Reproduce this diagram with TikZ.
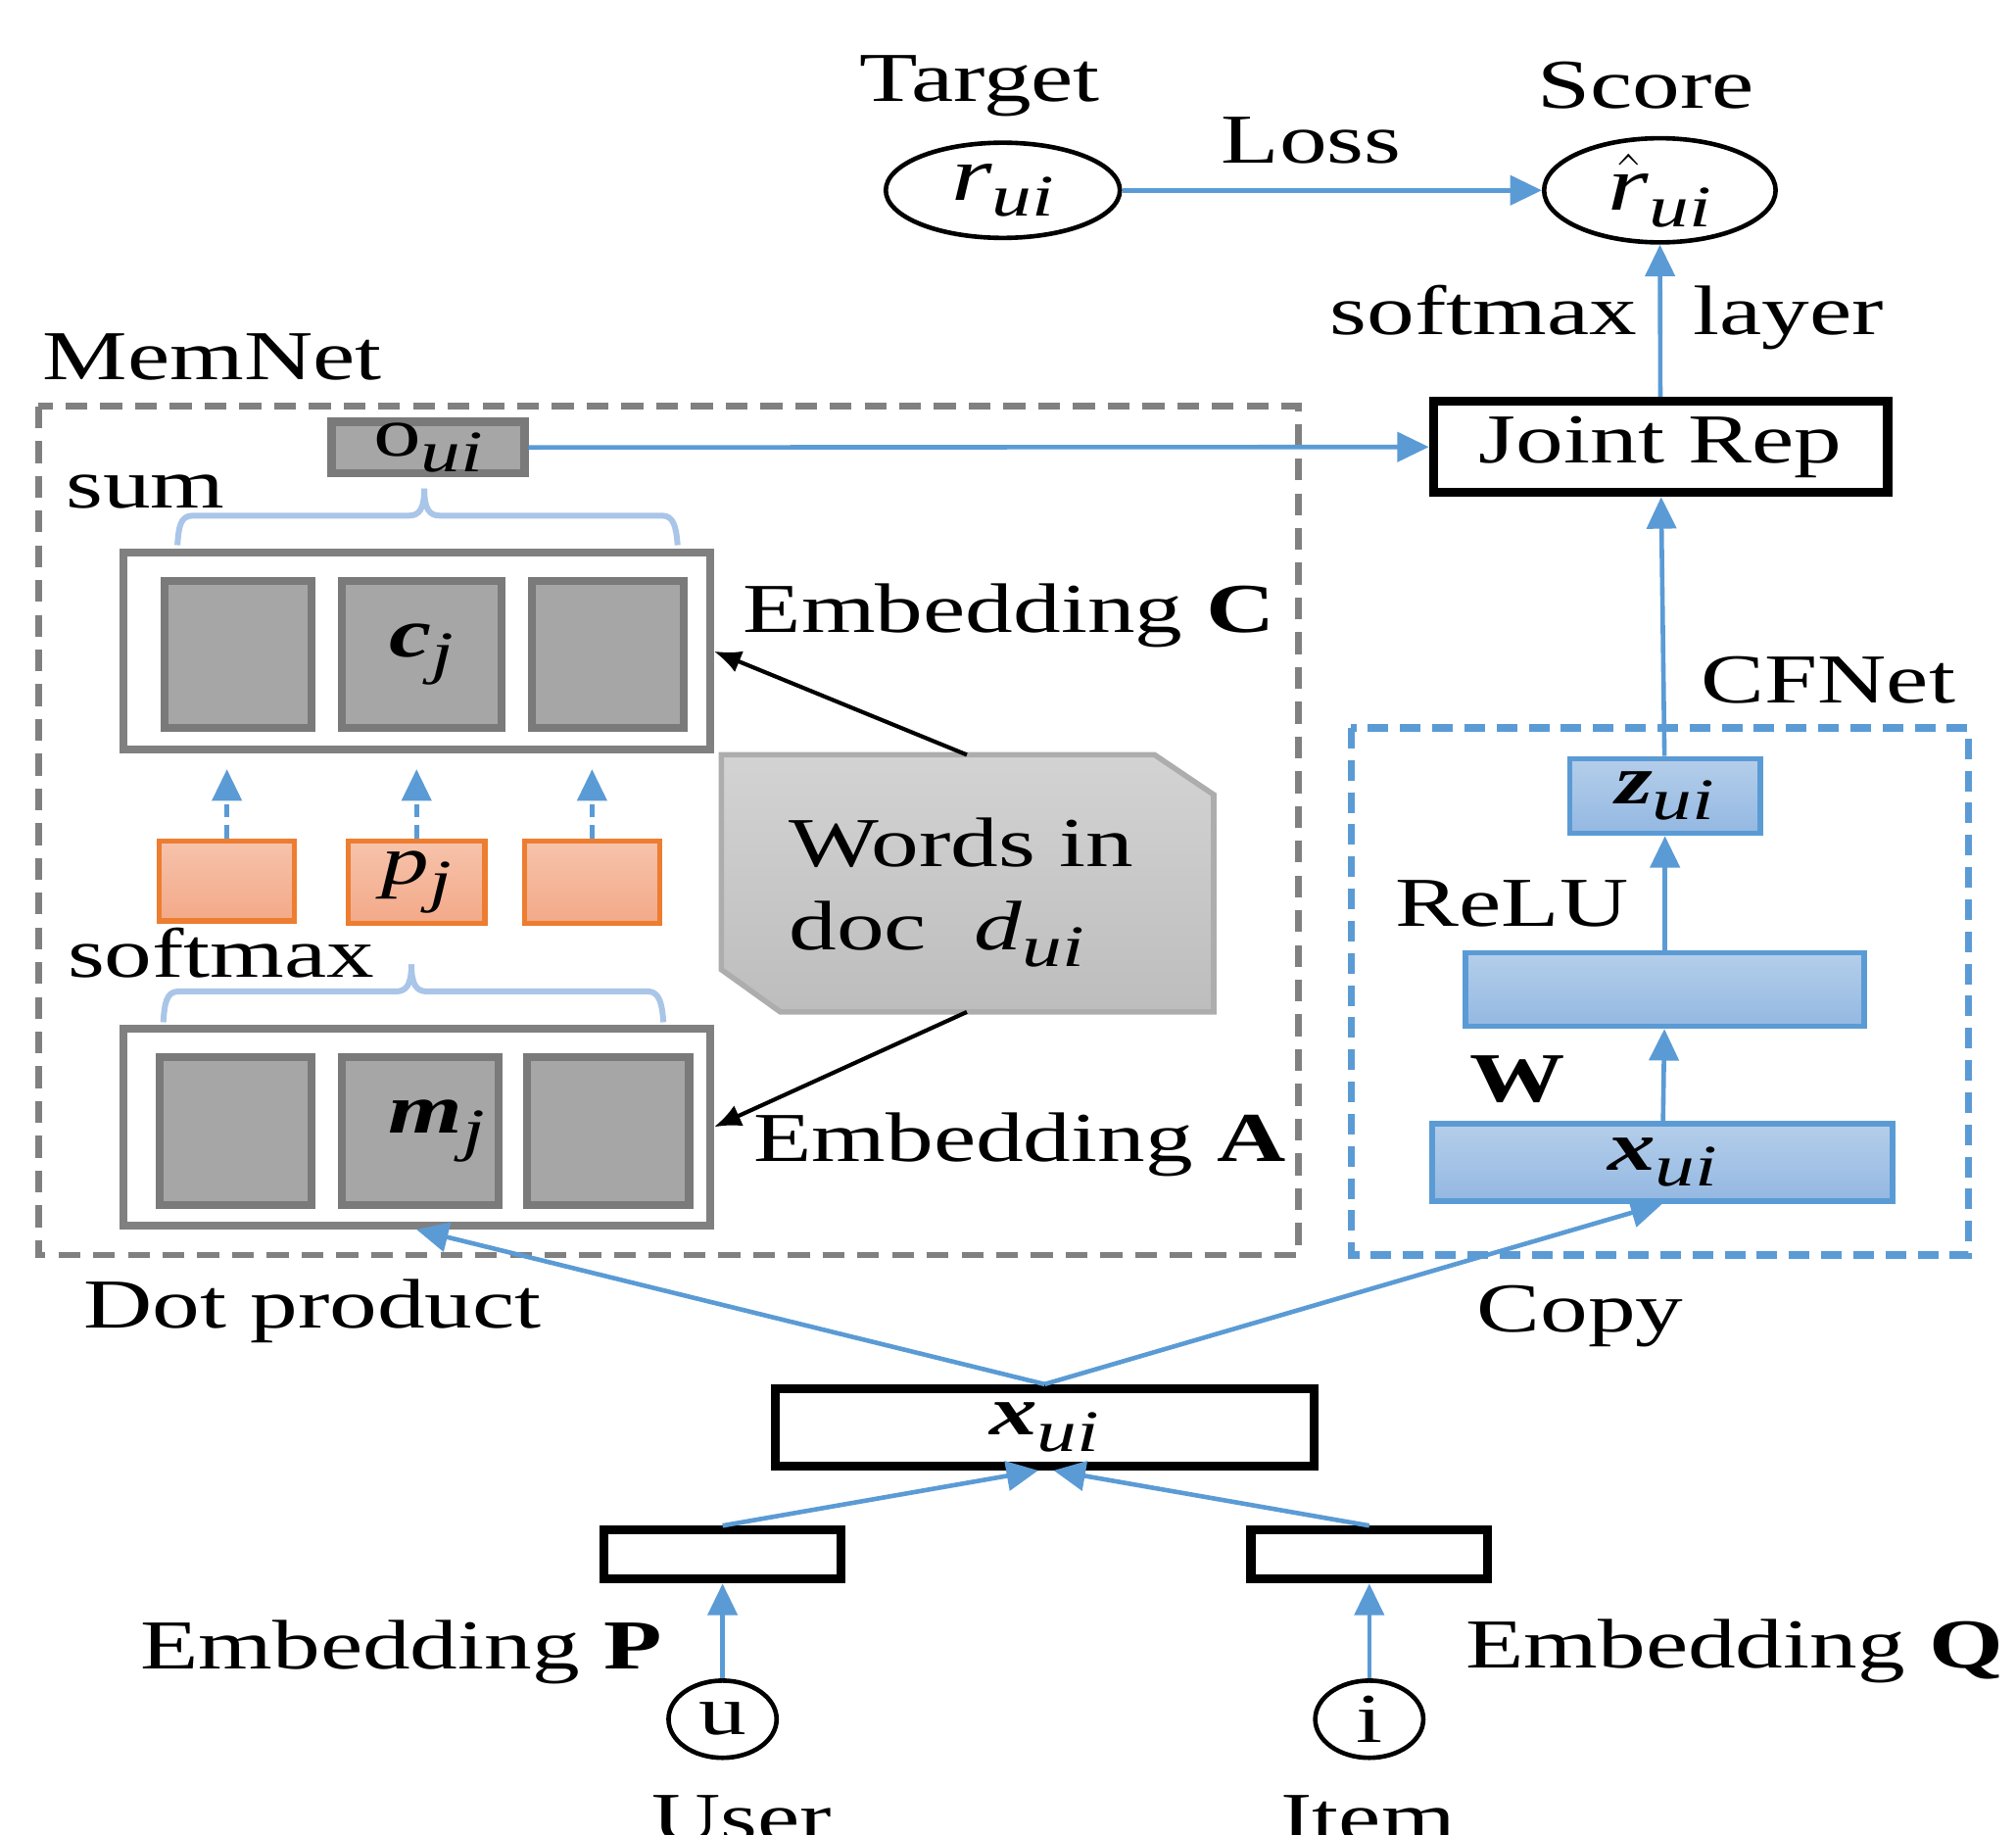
\documentclass[tikz,border=0pt]{standalone}
\usepackage{fontspec}
\setmainfont[FakeStretch=1.36]{Liberation Serif}
\usetikzlibrary{arrows.meta,shapes.geometric}

\definecolor{cfblue}{HTML}{5B9BD5}
\definecolor{framegray}{HTML}{808080}
\definecolor{cellfill}{HTML}{A6A6A6}
\definecolor{celledge}{HTML}{7A7A7A}
\definecolor{braceblue}{HTML}{A9C5E8}
\definecolor{orangeedge}{HTML}{ED7D31}
\definecolor{orangetop}{HTML}{F6C3AB}
\definecolor{orangebot}{HTML}{F3A988}
\definecolor{bluetop}{HTML}{B4CEEA}
\definecolor{bluebot}{HTML}{94B8E2}
\definecolor{doctop}{HTML}{D3D3D3}
\definecolor{docbot}{HTML}{BDBDBD}
\definecolor{docedge}{HTML}{ADADAD}

% lowered italic index, e.g. the "ui" of r_ui
\newcommand\lo[1]{\raisebox{-0.5ex}{\fontsize{13}{13}\selectfont\itshape #1}}

\begin{document}
\begin{tikzpicture}[x=0.01cm,y=-0.01cm,
  every node/.style={font=\fontsize{15.5}{18.6}\selectfont},
  lbl/.style={inner sep=0pt,anchor=base},
  ell/.style={ellipse,draw=black,line width=1pt,inner sep=0pt},
  kbox/.style={rectangle,draw=black,line width=2pt,fill=white,inner sep=0pt},
  holder/.style={rectangle,draw=framegray,line width=1.8pt,fill=white,inner sep=0pt},
  cell/.style={rectangle,draw=celledge,line width=1.8pt,fill=cellfill,inner sep=0pt,minimum height=1.14cm},
  wbox/.style={rectangle,draw=orangeedge,line width=1.2pt,top color=orangetop,bottom color=orangebot,inner sep=0pt},
  bbox/.style={rectangle,draw=cfblue,line width=1.2pt,top color=bluetop,bottom color=bluebot,inner sep=0pt},
  flow/.style={draw=cfblue,line width=1pt,-{Triangle[width=6.5pt,length=7pt]}},
  attn/.style={draw=cfblue,line width=1pt,dash pattern=on 3pt off 1.6pt,-{Triangle[width=6.5pt,length=7pt]},shorten >=0.12cm},
  feed/.style={draw=black,line width=0.9pt,-{Latex[width=5pt,length=6pt]}},
  memframe/.style={draw=framegray,line width=1.5pt,dash pattern=on 0.17cm off 0.1cm},
  cfframe/.style={draw=cfblue,line width=1.6pt,dash pattern=on 0.16cm off 0.09cm},
  bracket/.style={draw=braceblue,line width=1.3pt}]

\useasboundingbox (0,0) rectangle (1568,1427);
\clip (0,0) rectangle (1568,1427);

% ---- prediction and loss ----
\node[lbl] (target) at (762,79) {Target};
\node[lbl] (score) at (1280,84) {Score};
\node[lbl] (loss) at (1020,127) {Loss};
\node[ell,minimum width=1.82cm,minimum height=0.74cm] (rui) at (780,148) {{\fontsize{17}{17}\selectfont\itshape r}\lo{ui}};
\node[ell,minimum width=1.80cm,minimum height=0.70cm] (rhat) at (1291,148) {{\fontsize{17}{17}\selectfont$\hat{\mbox{\itshape r}}$}\lo{ui}};
\draw[flow] (rui) -- (rhat);

\node[kbox,minimum width=3.53cm,minimum height=0.71cm] (joint) at (1291.5,347.5) {Joint Rep};
\draw[flow] (joint) -- (rhat);
\node[lbl] (smtop) at (1154,260) {softmax};
\node[lbl] (layer) at (1391,260) {layer};

% ---- MemNet ----
\node[lbl] (memnet) at (165,295) {MemNet};
\draw[memframe] (30,316) rectangle (1010,976);

\node[rectangle,draw=celledge,line width=1.8pt,fill=cellfill,inner sep=0pt,
      minimum width=1.5cm,minimum height=0.4cm] (oui) at (333,348) {o\lo{ui}};
\draw[flow] (oui) -- (joint);

\node[lbl] (sum) at (113,395) {sum};
\draw[bracket] (138,424) .. controls (139,410) and (140,401) .. (150,401) -- (318,401)
  .. controls (326,401) and (330,396) .. (330,380);
\draw[bracket] (330,380) .. controls (330,396) and (334,401) .. (342,401) -- (515,401)
  .. controls (524,401) and (526,410) .. (527,424);

\node[holder,minimum width=4.56cm,minimum height=1.53cm] (embC) at (324,506.5) {};
\node[cell,minimum width=1.14cm] (c1) at (185,509) {};
\node[cell,minimum width=1.24cm] (c2) at (328,509) {\textbf{\textit{c}}\lo{j}};
\node[cell,minimum width=1.18cm] (c3) at (473,509) {};
\node[lbl] (embClbl) at (785,492) {Embedding \textbf{C}};

\node[wbox,minimum width=1.05cm,minimum height=0.62cm] (p1) at (176.5,685) {};
\node[wbox,minimum width=1.06cm,minimum height=0.64cm] (p2) at (324,686) {\textit{p}\lo{j}};
\node[wbox,minimum width=1.05cm,minimum height=0.64cm] (p3) at (460.5,686) {};
\draw[attn] (p1.north) -- (p1.north |- embC.south);
\draw[attn] (p2.north) -- (p2.north |- embC.south);
\draw[attn] (p3.north) -- (p3.north |- embC.south);

\node[lbl] (smmid) at (172,760) {softmax};
\draw[bracket] (127,795) .. controls (128,781) and (129,771) .. (139,771) -- (308,771)
  .. controls (316,771) and (320,766) .. (320,750);
\draw[bracket] (320,750) .. controls (320,766) and (324,771) .. (332,771) -- (504,771)
  .. controls (513,771) and (515,781) .. (516,795);

\node[holder,minimum width=4.56cm,minimum height=1.53cm] (embA) at (324,876.5) {};
\node[cell,minimum width=1.18cm,minimum height=1.15cm] (a1) at (183,879.5) {};
\node[cell,minimum width=1.22cm,minimum height=1.15cm] (a2) at (327,879.5) {\hspace{0.25cm}\textbf{\textit{m}}\lo{j}};
\node[cell,minimum width=1.26cm,minimum height=1.15cm] (a3) at (473,879.5) {};
\node[lbl] (embAlbl) at (793,903) {Embedding \textbf{A}};

% document of words
\draw[draw=docedge,line width=1.2pt,top color=doctop,bottom color=docbot]
  (561,587) -- (898,587) -- (944,618) -- (944,787) -- (607,787) -- (561,754) -- cycle;
\coordinate (doctop) at (752,587);
\coordinate (docbot) at (752,787);
\node[lbl,anchor=base west] (words) at (613,674) {Words in};
\node[lbl,anchor=base west] (docd) at (613,739) {doc\ \ \textit{d}\lo{ui}};
\draw[feed] (doctop) -- (embC.east);
\draw[feed] (docbot) -- (embA.east);

% ---- CFNet ----
\node[lbl] (cfnet) at (1422,547) {CFNet};
\draw[cfframe] (1051,566) rectangle (1531,976);
\node[bbox,minimum width=1.48cm,minimum height=0.58cm] (z) at (1295,619) {\textbf{\textit{z}}\lo{ui}};
\node[lbl] (relu) at (1176,720) {ReLU};
\node[bbox,minimum width=3.10cm,minimum height=0.57cm] (hid) at (1295,769.5) {};
\node[lbl] (w) at (1180,857) {\textbf{W}};
\node[bbox,minimum width=3.58cm,minimum height=0.60cm] (xcf) at (1293,904) {\textbf{\textit{x}}\lo{ui}};
\draw[flow] (z) -- (joint);
\draw[flow] (hid) -- (z);
\draw[flow] (xcf) -- (hid);

% ---- input embeddings ----
\node[kbox,minimum width=4.19cm,minimum height=0.60cm] (xb) at (812.5,1110) {\textbf{\textit{x}}\lo{ui}};
\draw[flow] (xb.north) -- (embA.south);
\draw[flow] (xb.north) -- (xcf.south);
\node[lbl] (dot) at (243,1033) {Dot product};
\node[lbl] (copy) at (1229,1036) {Copy};

\node[kbox,minimum width=1.84cm,minimum height=0.38cm] (pbox) at (562,1209) {};
\node[kbox,minimum width=1.84cm,minimum height=0.38cm] (qbox) at (1065,1209) {};
\draw[flow] (pbox.north) -- ([xshift=-0.05cm]xb.south);
\draw[flow] (qbox.north) -- ([xshift=0.07cm]xb.south);

\node[lbl] (embP) at (312,1298) {Embedding \textbf{P}};
\node[lbl] (embQ) at (1349,1297) {Embedding \textbf{Q}};
\node[ell,minimum width=0.84cm,minimum height=0.60cm] (u) at (562,1337) {u};
\node[ell,minimum width=0.84cm,minimum height=0.60cm] (i) at (1065,1337) {i};
\draw[flow] (u) -- (pbox);
\draw[flow] (i) -- (qbox);
\node[lbl] (user) at (577,1432) {User};
\node[lbl] (item) at (1064,1432) {Item};
\end{tikzpicture}
\end{document}
